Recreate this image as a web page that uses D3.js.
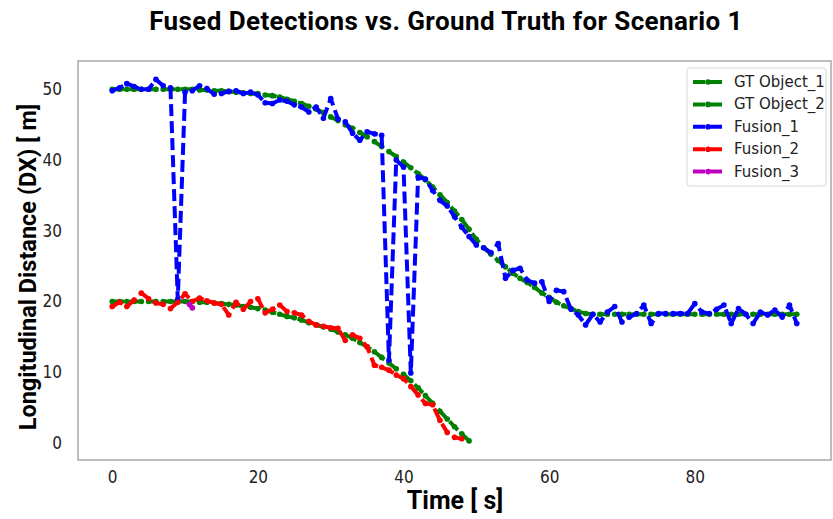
<!DOCTYPE html>
<html>
<head>
<meta charset="utf-8">
<script src="https://cdn.jsdelivr.net/npm/d3@7"></script>
<style>
  body { margin: 0; background: white; }
</style>
</head>
<body>
<div id="chart"></div>
<script>
// time axis (seconds)
const gt1Time = d3.range(0, 95);
const gt1Values = [
  50, 50, 50, 50, 50, 50, 50, 50, 50, 50,
  50, 50, 49.9, 49.9, 49.8, 49.8, 49.7, 49.6, 49.5, 49.4,
  49.4, 49.2, 49.1, 48.9, 48.6, 48.3, 48.0, 47.6, 47.2, 46.7,
  46.1, 45.6, 45.0, 44.5, 43.9, 43.3, 42.6, 41.9, 41.2, 40.5,
  39.7, 38.9, 38.1, 37.2, 36.2, 35.1, 34.0, 32.8, 31.6, 30.2,
  28.8, 27.6, 26.7, 25.8, 24.9, 24.0, 23.3, 22.7, 22.0, 21.2,
  20.6, 19.9, 19.4, 19.0, 18.6, 18.3, 18.2, 18.2, 18.2, 18.2,
  18.2, 18.2, 18.2, 18.2, 18.2, 18.2, 18.2, 18.2, 18.2, 18.2,
  18.2, 18.2, 18.2, 18.2, 18.2, 18.2, 18.2, 18.2, 18.2, 18.2,
  18.2, 18.2, 18.2, 18.2, 18.2
];

const gt2Time = d3.range(0, 50);
const gt2Values = [
  20, 20, 20, 20, 20, 20, 20, 20, 20, 20,
  20, 20, 19.9, 19.9, 19.8, 19.7, 19.6, 19.5, 19.3, 19.2,
  19.0, 18.8, 18.5, 18.2, 17.9, 17.7, 17.4, 17.0, 16.7, 16.4,
  16.1, 15.7, 15.3, 14.8, 14.2, 13.6, 12.9, 12.1, 11.3, 10.5,
  9.7, 8.8, 7.8, 6.7, 5.6, 4.5, 3.4, 2.3, 1.3, 0.3
];

const fusion1Time = d3.range(0, 95);
const fusion1Values = [
  49.8, 50.2, 50.8, 50.4, 50.0, 50.0, 51.4, 50.5, 50.2, 20.3,
  49.6, 49.8, 50.5, 50.1, 49.3, 49.4, 49.7, 49.8, 49.4, 49.6,
  49.2, 48.1, 48.0, 48.5, 48.3, 47.8, 47.5, 46.8, 47.5, 45.9,
  48.7, 45.8, 45.4, 43.8, 42.8, 44.0, 43.7, 43.5, 11.7, 40.0,
  39.0, 9.9, 37.6, 37.3, 35.7, 34.3, 33.5, 32.0, 30.5, 29.2,
  28.0, 27.6, 26.9, 28.2, 23.3, 24.4, 24.7, 23.0, 22.6, 22.8,
  20.0, 21.6, 21.4, 18.9, 18.1, 16.7, 18.2, 17.1, 18.5, 19.3,
  17.1, 17.8, 18.3, 19.5, 16.9, 18.3, 18.3, 18.3, 18.3, 18.3,
  19.7, 18.5, 18.3, 18.9, 19.5, 16.9, 19.0, 18.2, 16.9, 18.5,
  18.1, 18.8, 17.8, 19.5, 16.9
];

const fusion2Time = d3.range(0, 49);
const fusion2Values = [
  19.3, 19.9, 19.3, 20.2, 21.2, 20.4, 19.8, 19.6, 19.0, 19.9,
  21.1, 20.0, 20.5, 20.1, 19.8, 19.6, 18.1, 19.9, 18.9, 20.0,
  20.4, 18.4, 18.9, 19.5, 18.6, 18.4, 18.1, 17.2, 16.7, 16.5,
  16.3, 16.2, 14.5, 15.3, 14.8, 13.6, 11.0, 10.7, 10.3, 9.6,
  9.1, 8.0, 6.8, 5.6, 5.4, 3.2, 1.5, 0.8, 0.6
];

const fusion3Time = [10.6, 11];
const fusion3Values = [19.6, 19.1];

const seriesNames = ["GT Object_1", "GT Object_2", "Fusion_1", "Fusion_2", "Fusion_3"];
const seriesColors = ["#008000", "#008000", "#0000ff", "#ff0000", "#bf00bf"];

const xTicks = [0, 20, 40, 60, 80];
const yTicks = [0, 10, 20, 30, 40, 50];

const width = 833;
const height = 519;
const plot = { left: 78, right: 831, top: 61, bottom: 460 };

const svg = d3.select("#chart").append("svg")
  .attr("width", width)
  .attr("height", height);

const x = d3.scaleLinear().domain([-4.7, 98.7]).range([plot.left, plot.right]);
const y = d3.scaleLinear().domain([-2.4, 54.0]).range([plot.bottom, plot.top]);

function zip(times, values) {
  return times.map((t, i) => ({ t: t, v: values[i] }));
}

const series = [
  zip(gt1Time, gt1Values),
  zip(gt2Time, gt2Values),
  zip(fusion1Time, fusion1Values),
  zip(fusion2Time, fusion2Values),
  zip(fusion3Time, fusion3Values)
];

// title
svg.append("text")
  .attr("x", 446)
  .attr("y", 30)
  .attr("text-anchor", "middle")
  .attr("font-family", "Roboto, sans-serif")
  .attr("font-weight", "bold")
  .attr("font-size", 26)
  .attr("letter-spacing", 0.4)
  .attr("fill", "#000")
  .text("Fused Detections vs. Ground Truth for Scenario 1");

// frame
svg.append("rect")
  .attr("x", plot.left)
  .attr("y", plot.top)
  .attr("width", plot.right - plot.left)
  .attr("height", plot.bottom - plot.top)
  .attr("fill", "none")
  .attr("stroke", "#a8a8a8")
  .attr("stroke-width", 1.5);

// axes
const xAxis = svg.append("g")
  .attr("transform", `translate(0,${plot.bottom})`)
  .call(d3.axisBottom(x).tickValues(xTicks).tickSize(0).tickPadding(11));
const yAxis = svg.append("g")
  .attr("transform", `translate(${plot.left},0)`)
  .call(d3.axisLeft(y).tickValues(yTicks).tickSize(0).tickPadding(16));

[xAxis, yAxis].forEach(function (g) {
  g.select(".domain").remove();
  g.selectAll("text")
    .attr("font-family", "'Liberation Sans Narrow', 'DejaVu Sans Condensed', sans-serif")
    .attr("font-size", 17)
    .attr("fill", "#222");
});

// axis labels
svg.append("text")
  .attr("x", 455)
  .attr("y", 509)
  .attr("text-anchor", "middle")
  .attr("font-family", "Roboto, sans-serif")
  .attr("font-weight", "bold")
  .attr("font-size", 25)
  .text("Time [ s]");

svg.append("text")
  .attr("transform", "translate(36,267) rotate(-90)")
  .attr("text-anchor", "middle")
  .attr("font-family", "Roboto, sans-serif")
  .attr("font-weight", "bold")
  .attr("font-size", 23.5)
  .text("Longitudinal Distance (DX) [ m]");

// lines
const line = d3.line()
  .x((d) => x(d.t))
  .y((d) => y(d.v));

function drawSeries(data, color) {
  svg.append("path")
    .datum(data)
    .attr("d", line)
    .attr("fill", "none")
    .attr("stroke", color)
    .attr("stroke-width", 4)
    .attr("stroke-dasharray", "12,5")
    .attr("stroke-linejoin", "round");

  svg.append("g")
    .selectAll("circle")
    .data(data)
    .join("circle")
    .attr("cx", (d) => x(d.t))
    .attr("cy", (d) => y(d.v))
    .attr("r", 2.8)
    .attr("fill", color);
}

series.forEach((d, i) => drawSeries(d, seriesColors[i]));

// legend
const legend = svg.append("g").attr("transform", "translate(687,68)");
legend.append("rect")
  .attr("width", 139)
  .attr("height", 118)
  .attr("rx", 3)
  .attr("fill", "white")
  .attr("fill-opacity", 0.8)
  .attr("stroke", "#d8d8d8");

seriesNames.forEach(function (name, i) {
  const rowY = 14 + i * 22.4;
  legend.append("line")
    .attr("x1", 6).attr("x2", 36)
    .attr("y1", rowY).attr("y2", rowY)
    .attr("stroke", seriesColors[i])
    .attr("stroke-width", 4)
    .attr("stroke-dasharray", "12,5");
  legend.append("circle")
    .attr("cx", 21).attr("cy", rowY)
    .attr("r", 2.8)
    .attr("fill", seriesColors[i]);
  legend.append("text")
    .attr("x", 47)
    .attr("y", rowY + 5)
    .attr("font-family", "'DejaVu Sans', sans-serif")
    .attr("font-size", 15)
    .attr("fill", "#222")
    .text(name);
});
</script>
</body>
</html>
